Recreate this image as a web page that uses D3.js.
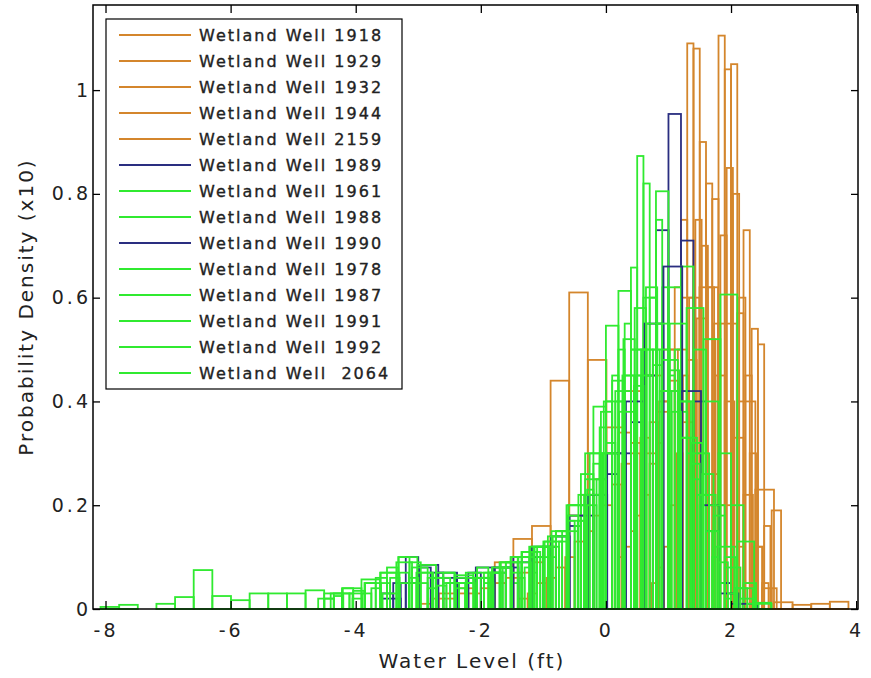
<!DOCTYPE html>
<html>
<head>
<meta charset="utf-8">
<script src="https://cdn.jsdelivr.net/npm/d3@7"></script>
<style>
body { margin: 0; background: #fff; }
svg text { font-family: "DejaVu Sans", Verdana, sans-serif; fill: #222; }
</style>
</head>
<body>
<script>
// wells, in plotting / legend order
var wellNames = ["Wetland Well 1918", "Wetland Well 1929", "Wetland Well 1932", "Wetland Well 1944",
  "Wetland Well 2159", "Wetland Well 1989", "Wetland Well 1961", "Wetland Well 1988", "Wetland Well 1990",
  "Wetland Well 1978", "Wetland Well 1987", "Wetland Well 1991", "Wetland Well 1992", "Wetland Well  2064"];

// left edge of first bin and bin width for each well (ft)
var binStart = [-2.67, 0.2, 0.73, -1.4, -3.0, -3.6, -1.5, -2.0, -3.58, -3.57, -4.6, -4.5, -4.4, -8.08];
var binWidth = [0.2976, 0.1, 0.1, 0.15, 0.2, 0.2, 0.1, 0.2, 0.3, 0.27, 0.25, 0.15, 0.18, 0.298];

// probability density (x10) per bin
var well1918 = [0.03, 0.04, 0.06, 0.09, 0.135, 0.16, 0.44, 0.61, 0.48, 0.35, 0.42, 0.45, 0.5, 0.6, 0.62, 0.55, 0.40, 0.23, 0.013, 0.008, 0.01, 0.014];
var well1929 = [0.1, 0.12, 0.15, 0.18, 0.22, 0.28, 0.32, 0.4, 0.5, 0.62, 0.75, 1.09, 1.08, 0.90, 0.82, 0.79, 1.105, 1.04, 1.05, 0.57, 0.73, 0.3, 0.12, 0.05];
var well1932 = [0.05, 0.08, 0.12, 0.2, 0.3, 0.45, 0.6, 0.75, 0.7, 0.62, 0.55, 0.72, 0.85, 0.8, 0.6, 0.45, 0.54, 0.51, 0.16, 0.04];
var well1944 = [0.02, 0.03, 0.05, 0.06, 0.08, 0.1, 0.13, 0.15, 0.18, 0.2, 0.24, 0.28, 0.3, 0.33, 0.36, 0.4, 0.44, 0.5, 0.48, 0.56, 0.52, 0.45, 0.4, 0.33, 0.22, 0.12, 0.04, 0.19];
var well2159 = [0.01, 0.02, 0.02, 0.03, 0.03, 0.04, 0.05, 0.06, 0.07, 0.09, 0.12, 0.15, 0.18, 0.22, 0.25, 0.3, 0.34, 0.32, 0.3, 0.38, 0.42, 0.36, 0.3, 0.26, 0.2, 0.12, 0.05];
var well1989 = [0.03, 0.05, 0.10, 0.08, 0.07, 0.06, 0.06, 0.07, 0.06, 0.07, 0.08, 0.09, 0.1, 0.12, 0.14, 0.16, 0.18, 0.22, 0.26, 0.3, 0.36, 0.45, 0.73, 0.954, 0.71, 0.4, 0.15, 0.05, 0.01];
var well1961 = [0.05, 0.06, 0.08, 0.07, 0.1, 0.12, 0.1, 0.13, 0.15, 0.17, 0.16, 0.2, 0.23, 0.28, 0.35, 0.4, 0.45, 0.5, 0.55, 0.658, 0.873, 0.82, 0.6, 0.75, 0.62, 0.45, 0.5, 0.38, 0.3, 0.25, 0.2, 0.15, 0.1, 0.05, 0.02];
var well1988 = [0.06, 0.08, 0.09, 0.1, 0.12, 0.13, 0.15, 0.2, 0.26, 0.39, 0.546, 0.613, 0.5, 0.6, 0.805, 0.62, 0.66, 0.5, 0.4, 0.3, 0.2, 0.05];
var well1990 = [0.02, 0.05, 0.085, 0.07, 0.06, 0.08, 0.08, 0.1, 0.12, 0.14, 0.18, 0.22, 0.3, 0.4, 0.55, 0.66, 0.42, 0.2, 0.03, 0.01];
var well1978 = [0.03, 0.05, 0.07, 0.06, 0.05, 0.06, 0.07, 0.09, 0.1, 0.12, 0.15, 0.2, 0.25, 0.3, 0.38, 0.45, 0.5, 0.55, 0.58, 0.52, 0.606, 0.13, 0.012];
var well1987 = [0.02, 0.03, 0.03, 0.05, 0.07, 0.09, 0.08, 0.06, 0.05, 0.05, 0.06, 0.07, 0.09, 0.11, 0.12, 0.14, 0.17, 0.22, 0.3, 0.42, 0.5, 0.55, 0.48, 0.4, 0.3, 0.2, 0.08, 0.02];
var well1991 = [0.02, 0.025, 0.03, 0.02, 0.03, 0.04, 0.05, 0.06, 0.07, 0.06, 0.05, 0.04, 0.045, 0.05, 0.04, 0.05, 0.06, 0.05, 0.07, 0.08, 0.07, 0.09, 0.11, 0.1, 0.12, 0.13, 0.15, 0.17, 0.2, 0.25, 0.32, 0.4, 0.45, 0.43, 0.5, 0.47, 0.42, 0.38, 0.33, 0.28, 0.22, 0.15, 0.09, 0.03];
var well1992 = [0.03, 0.04, 0.035, 0.05, 0.06, 0.08, 0.1, 0.09, 0.07, 0.06, 0.07, 0.06, 0.07, 0.08, 0.07, 0.09, 0.1, 0.11, 0.12, 0.13, 0.15, 0.18, 0.22, 0.3, 0.38, 0.44, 0.52, 0.58, 0.62, 0.55, 0.46, 0.4, 0.32, 0.26, 0.18, 0.1, 0.04, 0.01];
var well2064 = [0.004, 0.008, 0, 0.01, 0.023, 0.075, 0.025, 0.017, 0.03, 0.03, 0.03, 0.036, 0.03, 0.04, 0.057, 0.07, 0.10, 0.085, 0.07, 0.065, 0.07, 0.08, 0.1, 0.12, 0.14, 0.2, 0.3, 0.4, 0.45, 0.5, 0.42, 0.33, 0.22, 0.12, 0.04, 0.01];

var densities = [well1918, well1929, well1932, well1944, well2159, well1989, well1961, well1988,
  well1990, well1978, well1987, well1991, well1992, well2064];

var xTicks = [-8, -6, -4, -2, 0, 2, 4];
var yTicks = [0, 0.2, 0.4, 0.6, 0.8, 1];

// colours (style only)
var orange = "#D4862C", green = "#30EA30", navy = "#2A2E80";
var wellColor = [orange, orange, orange, orange, orange, navy, green, green, navy, green, green, green, green, green];

var w = 871, h = 678;
var plotLeft = 93, plotRight = 858, plotTop = 5, plotBottom = 609;

var svg = d3.select("body").append("svg")
  .attr("width", w)
  .attr("height", h);

var x = d3.scaleLinear().domain([-8.2, 4.03]).range([plotLeft, plotRight]);
var y = d3.scaleLinear().domain([0, 1.164]).range([plotBottom, plotTop]);

// histogram outlines, one group per well
densities.forEach(function(vals, k) {
  var bins = vals.map(function(v, i) {
    return { x0: binStart[k] + i * binWidth[k], x1: binStart[k] + (i + 1) * binWidth[k], v: v };
  }).filter(function(b) { return b.v > 0; });

  svg.append("g")
    .selectAll("rect")
    .data(bins)
    .enter()
    .append("rect")
    .attr("x", function(b) { return x(b.x0); })
    .attr("width", function(b) { return x(b.x1) - x(b.x0); })
    .attr("y", function(b) { return y(b.v); })
    .attr("height", function(b) { return y(0) - y(b.v); })
    .attr("fill", "none")
    .attr("stroke", wellColor[k])
    .attr("stroke-width", 1.8);
});

// axes, ticks pointing inward on all four sides
function styleAxis(g) {
  g.select(".domain").remove();
  g.selectAll(".tick line").attr("stroke", "#000").attr("stroke-width", 1.3);
  g.attr("font-family", null).attr("font-size", null);
  g.selectAll("text").style("font-size", "19px").style("letter-spacing", "3px");
}

svg.append("g")
  .attr("transform", "translate(0," + plotBottom + ")")
  .call(d3.axisBottom(x).tickValues(xTicks).tickSize(-8).tickSizeOuter(0).tickPadding(15)
    .tickFormat(function(d) { return String(d); }))
  .call(styleAxis);

svg.append("g")
  .attr("transform", "translate(0," + plotTop + ")")
  .call(d3.axisTop(x).tickValues(xTicks).tickSize(-8).tickSizeOuter(0).tickFormat(""))
  .call(styleAxis);

svg.append("g")
  .attr("transform", "translate(" + plotLeft + ",0)")
  .call(d3.axisLeft(y).tickValues(yTicks).tickSize(-7).tickSizeOuter(0).tickPadding(2)
    .tickFormat(d3.format("~g")))
  .call(styleAxis);

svg.append("g")
  .attr("transform", "translate(" + plotRight + ",0)")
  .call(d3.axisRight(y).tickValues(yTicks).tickSize(-7).tickSizeOuter(0).tickFormat(""))
  .call(styleAxis);

// axes box
svg.append("rect")
  .attr("x", plotLeft).attr("y", plotTop)
  .attr("width", plotRight - plotLeft).attr("height", plotBottom - plotTop)
  .attr("fill", "none")
  .attr("stroke", "#000")
  .attr("stroke-width", 1.5);

// axis titles
svg.append("text")
  .attr("x", 472).attr("y", 668)
  .attr("text-anchor", "middle")
  .style("font-size", "20px")
  .style("letter-spacing", "2px")
  .text("Water Level (ft)");

svg.append("text")
  .attr("transform", "translate(33,307) rotate(-90)")
  .attr("text-anchor", "middle")
  .style("font-size", "20px")
  .style("letter-spacing", "2px")
  .text("Probability Density (x10)");

// legend
var legend = svg.append("g");
legend.append("rect")
  .attr("x", 106).attr("y", 19)
  .attr("width", 296).attr("height", 370)
  .attr("fill", "#fff")
  .attr("stroke", "#000")
  .attr("stroke-width", 1.2);

var rows = legend.selectAll("g.row")
  .data(wellNames)
  .enter()
  .append("g")
  .attr("class", "row")
  .attr("transform", function(d, i) { return "translate(0," + (35 + i * 26) + ")"; });

rows.append("line")
  .attr("x1", 119).attr("x2", 191)
  .attr("stroke", function(d, i) { return wellColor[i]; })
  .attr("stroke-width", 1.8);

rows.append("text")
  .attr("x", 199)
  .attr("dy", "0.36em")
  .style("font-size", "16px")
  .style("letter-spacing", "2px")
  .style("white-space", "pre")
  .style("stroke", "#222")
  .style("stroke-width", "0.35px")
  .text(function(d) { return d; });
</script>
</body>
</html>
